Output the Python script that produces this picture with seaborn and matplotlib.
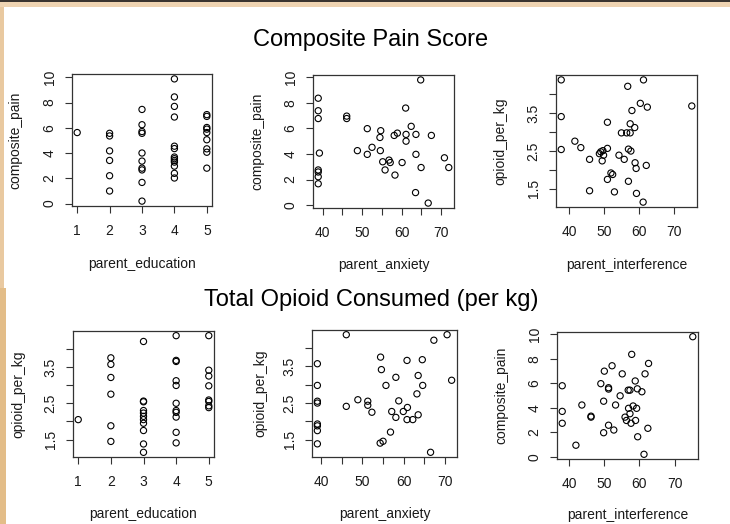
import matplotlib
matplotlib.use("Agg")
import matplotlib.pyplot as plt
import seaborn as sns
import numpy as np
from matplotlib.patches import Rectangle

# ---- data ----
# composite pain vs parent education
edu_for_pain = [1] + [2] * 6 + [3] * 10 + [4] * 13 + [5] * 9
pain_by_edu = [5.62,
               5.56, 5.35, 4.17, 3.41, 2.20, 0.99,
               7.45, 6.24, 5.70, 5.56, 4.00, 3.36, 2.80, 2.66, 1.67, 0.19,
               9.87, 8.44, 7.69, 6.85, 4.54, 4.35, 3.68, 3.55, 3.41, 3.28, 2.96, 2.39, 2.02,
               7.04, 6.90, 6.02, 5.89, 5.62, 5.05, 4.33, 4.06, 2.80]

# composite pain vs parent anxiety
anx_for_pain = [38.9, 38.9, 38.9, 39.2, 38.9, 38.9, 38.9, 38.9, 46.1, 46.1,
                48.8, 51.3, 51.3, 52.5, 54.7, 54.5, 54.6, 55.2, 55.8, 56.8,
                57.1, 58.1, 58.9, 58.3, 60.1, 61.0, 61.1, 61.1, 62.4, 63.6,
                63.6, 63.5, 64.8, 64.9, 66.7, 67.5, 70.8, 71.9]
pain_by_anx = [8.36, 7.38, 6.77, 4.07, 2.75, 2.59, 2.22, 1.67, 6.96, 6.77,
               4.26, 5.98, 3.97, 4.52, 5.82, 5.29, 4.26, 3.39, 2.75, 3.52,
               3.33, 5.45, 5.63, 2.35, 3.33, 7.59, 5.53, 5.00, 6.16, 5.53,
               3.97, 0.98, 9.79, 2.94, 0.16, 5.45, 3.70, 2.94]

# opioid per kg vs parent interference
int_for_opioid = [37.7, 37.7, 37.7, 41.6, 43.3, 45.8, 45.8, 48.6, 49.0, 49.6,
                  49.8, 49.4, 50.9, 50.9, 50.9, 51.9, 52.4, 52.9, 54.2, 54.9,
                  55.7, 56.4, 56.7, 56.9, 56.9, 57.4, 57.4, 57.6, 57.9, 58.7,
                  58.8, 59.1, 59.2, 60.3, 61.1, 61.2, 62.0, 62.3, 75.0]
opioid_by_int = [4.38, 3.41, 2.54, 2.76, 2.59, 2.28, 1.45, 2.43, 2.48, 2.51,
                 2.39, 2.24, 3.26, 2.57, 1.75, 1.92, 1.88, 1.42, 2.39, 2.98,
                 2.28, 2.98, 4.21, 2.55, 1.70, 2.98, 3.22, 2.50, 3.57, 3.12,
                 2.19, 2.04, 1.38, 3.76, 1.15, 4.38, 2.12, 3.66, 3.69]

# opioid per kg vs parent education
edu_for_opioid = [1] + [2] * 6 + [3] * 11 + [4] * 11 + [5] * 8
opioid_by_edu = [2.05,
                 3.75, 3.57, 3.21, 2.75, 1.88, 1.45,
                 4.20, 2.56, 2.54, 2.30, 2.23, 2.14, 2.05, 1.95, 1.75, 1.38, 1.15,
                 4.36, 3.68, 3.65, 3.12, 2.99, 2.50, 2.30, 2.25, 2.12, 1.70, 1.41,
                 4.36, 3.41, 3.25, 2.98, 2.59, 2.55, 2.43, 2.38]

# opioid per kg vs parent anxiety
anx_for_opioid = [39.1, 39.1, 39.1, 39.1, 39.1, 39.1, 39.1, 39.1, 46.1, 46.1,
                  48.9, 51.3, 51.3, 52.3, 54.4, 54.6, 54.3, 55.0, 55.7, 56.8,
                  57.1, 58.1, 58.1, 58.8, 59.9, 60.8, 60.9, 60.8, 62.2, 63.2,
                  63.5, 63.5, 64.5, 64.6, 66.5, 67.3, 70.5, 71.6]
opioid_by_anx = [3.57, 2.98, 2.55, 2.50, 1.93, 1.88, 1.75, 1.39, 4.36, 2.41,
                 2.59, 2.55, 2.44, 2.25, 3.75, 3.41, 1.41, 1.46, 2.98, 1.71,
                 2.27, 3.20, 2.11, 2.56, 2.27, 3.66, 2.38, 2.05, 2.05, 2.75,
                 3.25, 2.18, 3.68, 2.98, 1.16, 4.21, 4.36, 3.12]

# composite pain vs parent interference
int_for_pain = [38.0, 38.0, 38.0, 41.9, 43.6, 46.2, 46.2, 49.0, 49.8, 49.8,
                50.0, 51.2, 51.2, 51.2, 52.2, 52.7, 53.2, 54.5, 55.1, 55.9,
                56.8, 57.3, 56.9, 56.3, 57.3, 57.6, 57.8, 58.2, 58.8, 58.9,
                59.2, 59.4, 60.7, 59.5, 61.3, 61.6, 62.4, 62.6, 75.2]
pain_by_int = [5.81, 3.72, 2.75, 0.96, 4.24, 3.33, 3.25, 5.98, 4.55, 1.98,
               7.00, 5.65, 5.54, 2.59, 7.44, 2.20, 4.24, 4.99, 6.78, 3.25,
               5.45, 5.45, 3.97, 2.98, 3.53, 2.75, 8.37, 4.16, 6.20, 2.98,
               3.97, 5.56, 5.32, 1.65, 0.22, 6.78, 2.34, 7.63, 9.81]

edu_ticks = [1, 2, 3, 4, 5]
pain_ticks = [0, 2, 4, 6, 8, 10]
score_ticks = [40, 45, 50, 55, 60, 65, 70]
interference_ticks = [40, 50, 60, 70]
opioid_ticks = [1.5, 2.0, 2.5, 3.0, 3.5, 4.0]

# ---- figure ----
W, H = 730, 524
sns.set_style("white")
plt.rcParams["font.family"] = ["Liberation Sans", "DejaVu Sans"]
fig = plt.figure(figsize=(W / 100, H / 100), dpi=100)
TXT = "#1a1a1a"


def rect(l, t, r, b):
    return [l / W, 1 - b / H, (r - l) / W, (b - t) / H]


def r_lim(v):
    # R's default 4% axis extension
    lo, hi = min(v), max(v)
    pad = 0.04 * (hi - lo)
    return lo - pad, hi + pad


def tick_labels(ticks, shown):
    out = []
    for t in ticks:
        if t in shown:
            out.append(f"{t:g}")
        else:
            out.append("")
    return out


def panel(box, x, y, xlab, ylab, xt, xshow, yt, yshow, xlab_y, ylab_x):
    ax = fig.add_axes(rect(*box))
    sns.scatterplot(x=x, y=y, ax=ax, marker="o", s=20, facecolors="none",
                    edgecolors="black", linewidth=0.8)
    ax.set_xlim(r_lim(x))
    ax.set_ylim(r_lim(y))
    ax.set_xticks(xt, labels=tick_labels(xt, xshow))
    ax.set_yticks(yt, labels=tick_labels(yt, yshow))
    ax.tick_params(bottom=True, left=True, direction="out", length=5, width=0.8,
                   colors="#333333", labelcolor=TXT, labelsize=10)
    ax.tick_params(axis="x", pad=8)
    ax.tick_params(axis="y", pad=6)
    for lbl in ax.get_yticklabels():
        lbl.set_rotation(90)
        lbl.set_va("center")
    for s in ax.spines.values():
        s.set_visible(True)
        s.set_color("#333333")
        s.set_linewidth(0.9)
    ax.set_xlabel(xlab, fontsize=10, color=TXT)
    ax.set_ylabel(ylab, fontsize=10, color=TXT)
    l, t, r, b = box
    ax.xaxis.set_label_coords(0.5, (b - xlab_y) / (b - t))
    ax.xaxis.label.set_va("center")
    ax.yaxis.set_label_coords((ylab_x - l) / (r - l), 0.5)
    ax.yaxis.label.set_va("center")
    return ax


panel((72, 74, 212, 206), edu_for_pain, pain_by_edu, "parent_education",
      "composite_pain", edu_ticks, edu_ticks, pain_ticks, pain_ticks, 264, 15)
panel((313, 75, 454, 208), anx_for_pain, pain_by_anx, "parent_anxiety",
      "composite_pain", score_ticks, interference_ticks, pain_ticks, pain_ticks, 265, 257)
panel((556, 75, 697, 207), int_for_opioid, opioid_by_int, "parent_interference",
      "opioid_per_kg", interference_ticks, interference_ticks, opioid_ticks,
      [1.5, 2.5, 3.5], 265, 500)

panel((73, 331, 214, 457), edu_for_opioid, opioid_by_edu, "parent_education",
      "opioid_per_kg", edu_ticks, edu_ticks, opioid_ticks, [1.5, 2.5, 3.5], 514, 18)
panel((312, 330, 457, 457), anx_for_opioid, opioid_by_anx, "parent_anxiety",
      "opioid_per_kg", score_ticks, interference_ticks, opioid_ticks,
      [1.5, 2.5, 3.5], 514, 260)
panel((557, 332, 698, 459), int_for_pain, pain_by_int, "parent_interference",
      "composite_pain", interference_ticks, interference_ticks, pain_ticks,
      pain_ticks, 515, 501)

fig.text(371 / W, 1 - 40 / H, "Composite Pain Score", ha="center", va="center",
         fontsize=17, color="black")
fig.text(371 / W, 1 - 300 / H, "Total Opioid Consumed (per kg)", ha="center",
         va="center", fontsize=17, color="black")

# slide frame
fig.patches.append(Rectangle((0, 1 - 7 / H), 1, 7 / H, transform=fig.transFigure,
                             facecolor="#efd4b2", edgecolor="none", zorder=0))
fig.patches.append(Rectangle((0, 1 - 1.5 / H), 1, 1.5 / H, transform=fig.transFigure,
                             facecolor="#3b3530", edgecolor="none", zorder=1))
fig.patches.append(Rectangle((0, 1 - 288 / H), 4 / W, 281 / H, transform=fig.transFigure,
                             facecolor="#e9c9a0", edgecolor="none", zorder=0))
fig.patches.append(Rectangle((0, 0), 6 / W, 1 - 288 / H, transform=fig.transFigure,
                             facecolor="#e3bd88", edgecolor="none", zorder=0))

fig.savefig("out.png", dpi=100)
